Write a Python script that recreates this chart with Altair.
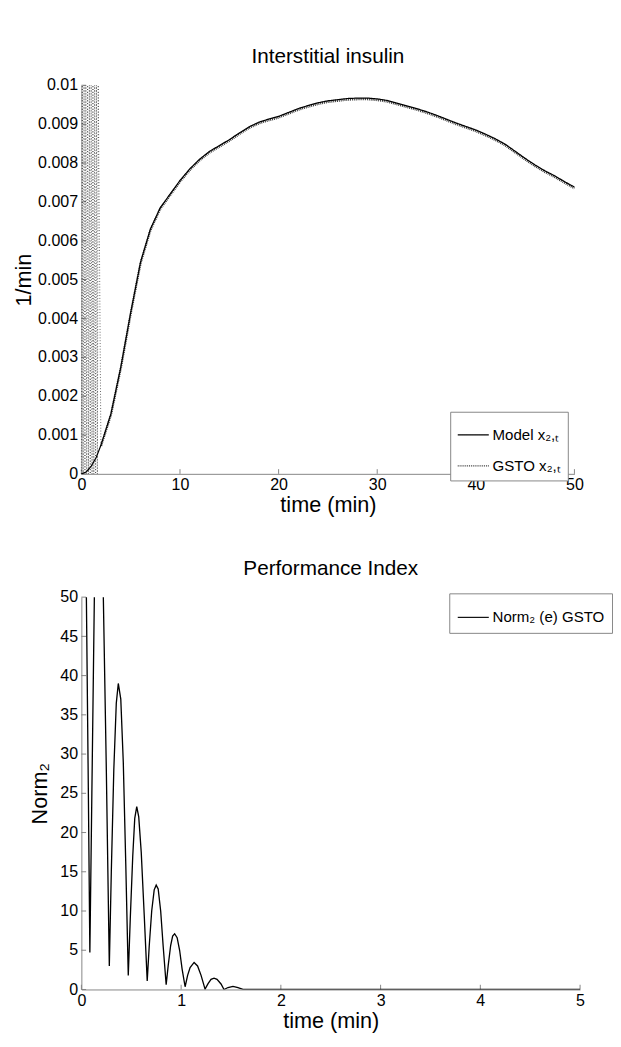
import altair as alt
import pandas as pd

FONT = "Liberation Sans"
AXIS_GRAY = "#808080"

# ---------- Top panel: Interstitial insulin ----------
model_t = [0, 0.5, 1, 1.5, 2, 3, 4, 5, 6, 7, 8, 9, 10, 11, 12, 13, 14, 15, 16, 17,
           18, 19, 20, 21, 22, 23, 24, 25, 26, 27, 28, 29, 30, 31, 32, 33, 34, 35,
           36, 37, 38, 39, 40, 41, 42, 43, 44, 45, 46, 47, 48, 49, 50]
model_v = [0.0, 0.00005, 0.0002, 0.00042, 0.00075, 0.00155, 0.00275, 0.00415, 0.00545,
           0.0063, 0.00685, 0.0072, 0.00755, 0.00785, 0.0081, 0.0083, 0.00845, 0.0086,
           0.00877, 0.00893, 0.00905, 0.00913, 0.0092, 0.0093, 0.0094, 0.00948, 0.00955,
           0.0096, 0.00963, 0.00966, 0.00967, 0.00967, 0.00965, 0.00961, 0.00954, 0.00947,
           0.0094, 0.00932, 0.00923, 0.00913, 0.00903, 0.00894, 0.00885, 0.00874, 0.00862,
           0.00848, 0.0083, 0.00812, 0.00795, 0.0078, 0.00767, 0.00752, 0.00738]

# GSTO: fast oscillation during the first ~2 min, then it follows the model curve
gsto_early_t = [0.0, 0.09, 0.18, 0.27, 0.36, 0.45, 0.54, 0.63, 0.72, 0.81, 0.90,
                0.99, 1.08, 1.17, 1.26, 1.35, 1.44, 1.53, 1.62, 1.71, 1.98]
gsto_early_v = [0.0, 0.01, 0.0, 0.01, 0.0, 0.01, 0.0, 0.01, 0.0, 0.01, 0.0,
                0.01, 0.0, 0.01, 0.0, 0.01, 0.0, 0.01, 0.0, 0.01, 0.0007]

top_xticks = [0, 10, 20, 30, 40, 50]
top_yticks = [0, 0.001, 0.002, 0.003, 0.004, 0.005, 0.006, 0.007, 0.008, 0.009, 0.01]

model_label = "Model x\u2082,\u209c"
gsto_label = "GSTO x\u2082,\u209c"

# ---------- Bottom panel: Performance Index ----------
norm_t = [0.0, 0.03, 0.05, 0.07, 0.085, 0.105, 0.13, 0.15, 0.175, 0.2, 0.22, 0.25, 0.28,
          0.30, 0.325, 0.35, 0.37, 0.395, 0.42, 0.445, 0.47,
          0.49, 0.515, 0.535, 0.555, 0.575, 0.60, 0.63, 0.66,
          0.68, 0.705, 0.73, 0.75, 0.77, 0.795, 0.82, 0.85,
          0.87, 0.895, 0.915, 0.935, 0.96, 0.985, 1.01, 1.04,
          1.065, 1.09, 1.13, 1.165, 1.2, 1.24,
          1.27, 1.3, 1.33, 1.36, 1.4, 1.43,
          1.47, 1.52, 1.57, 1.62, 2.0, 5.0]
norm_v = [110, 80, 50, 25, 4.7, 25, 50, 64, 70, 64, 50, 28, 3.0,
          15, 28, 36.5, 39, 37, 29, 16, 1.8,
          9, 17, 21.8, 23.3, 22, 17.5, 9.5, 1.1,
          5.5, 10, 12.7, 13.3, 12.8, 10, 5.5, 0.6,
          3.0, 5.6, 6.8, 7.1, 6.6, 5.0, 2.6, 0.35,
          1.8, 2.8, 3.45, 3.0, 1.8, 0.05,
          0.75, 1.3, 1.45, 1.3, 0.7, 0.0,
          0.25, 0.4, 0.25, 0.02, 0.0, 0.0]
bot_xticks = [0, 1, 2, 3, 4, 5]
bot_yticks = [0, 5, 10, 15, 20, 25, 30, 35, 40, 45, 50]
norm_label = "Norm\u2082 (e) GSTO"

# ---------- Data frames ----------
df_model = pd.DataFrame({"t": model_t, "v": model_v, "series": model_label})
late_t = [t for t in model_t if t >= 2]
late_v = [v for t, v in zip(model_t, model_v) if t >= 2]
df_gsto = pd.DataFrame({"t": late_t, "v": late_v, "series": gsto_label})
df_gsto_early = pd.DataFrame({"t": gsto_early_t, "v": gsto_early_v})
df_top_xt = pd.DataFrame({"t": top_xticks})
df_top_yt = pd.DataFrame({"v": top_yticks})

df_norm = pd.DataFrame({"t": norm_t, "v": norm_v, "metric": norm_label})
df_bot_xt = pd.DataFrame({"t": bot_xticks})
df_bot_yt = pd.DataFrame({"v": bot_yticks})

LABEL_SIZE = 17

# ---------- Top chart ----------
TW, TH = 524, 413
xs_top = alt.Scale(domain=[0, 50], nice=False, zero=False)
ys_top = alt.Scale(domain=[0, 0.01], nice=False)
xaxis_top = alt.Axis(title="time (min)", values=top_xticks, format="~r", labelFlush=False,
                     ticks=False, tickSize=0, grid=False, labelPadding=4, titlePadding=2)
yaxis_top = alt.Axis(title="1/min", values=top_yticks, format="~r", ticks=False, tickSize=0,
                     grid=False, labelPadding=4, titlePadding=3, labelOverlap=False)

top_legend = alt.Legend(title=None, orient="none", legendX=392, legendY=347,
                        symbolType="stroke", symbolSize=1089, symbolStrokeWidth=1.2,
                        labelFont=FONT, labelFontSize=16, labelColor="#000000",
                        strokeColor=AXIS_GRAY, fillColor="#ffffff", padding=7,
                        rowPadding=7, labelOffset=3)
color_top = alt.Color("series:N",
                      scale=alt.Scale(domain=[model_label, gsto_label], range=["#000000", "#333333"]),
                      legend=top_legend)
dash_top = alt.StrokeDash("series:N",
                          scale=alt.Scale(domain=[model_label, gsto_label], range=[[1, 0], [1, 1]]),
                          legend=top_legend)

gsto_early = alt.Chart(df_gsto_early).mark_line(strokeWidth=0.8, color="#333333",
                                                strokeDash=[1, 2]).encode(
    x=alt.X("t:Q", scale=xs_top, axis=xaxis_top),
    y=alt.Y("v:Q", scale=ys_top, axis=yaxis_top))
gsto_line = alt.Chart(df_gsto).mark_line(strokeWidth=2.4, yOffset=1.2).encode(
    x=alt.X("t:Q", scale=xs_top, axis=xaxis_top),
    y=alt.Y("v:Q", scale=ys_top, axis=yaxis_top),
    color=color_top, strokeDash=dash_top)
model_line = alt.Chart(df_model).mark_line(strokeWidth=1.3).encode(
    x=alt.X("t:Q", scale=xs_top, axis=xaxis_top),
    y=alt.Y("v:Q", scale=ys_top, axis=yaxis_top),
    color=color_top, strokeDash=dash_top)
top_xtick_rule = alt.Chart(df_top_xt).mark_rule(color=AXIS_GRAY, strokeWidth=1).encode(
    x=alt.X("t:Q", scale=xs_top, axis=xaxis_top),
    y=alt.value(TH), y2=alt.value(TH - 5))
top_ytick_rule = alt.Chart(df_top_yt).mark_rule(color=AXIS_GRAY, strokeWidth=1).encode(
    y=alt.Y("v:Q", scale=ys_top, axis=yaxis_top),
    x=alt.value(0), x2=alt.value(5))

top = alt.layer(top_xtick_rule, top_ytick_rule, gsto_early, gsto_line, model_line).properties(
    width=TW, height=TH,
    title=alt.TitleParams("Interstitial insulin", font=FONT, fontSize=22, fontWeight="normal",
                          color="#000000", offset=10, anchor="middle"))

# ---------- Bottom chart ----------
BW, BH = 530, 417
xs_bot = alt.Scale(domain=[0, 5], nice=False, zero=False)
ys_bot = alt.Scale(domain=[0, 50], nice=False)
xaxis_bot = alt.Axis(title="time (min)", values=bot_xticks, format="~r", labelFlush=False,
                     ticks=False, tickSize=0, grid=False, labelPadding=4, titlePadding=2)
yaxis_bot = alt.Axis(title="Norm\u2082", values=bot_yticks, format="~r", ticks=False, tickSize=0,
                     grid=False, labelPadding=4, titlePadding=9, labelOverlap=False)
color_bot = alt.Color("metric:N",
                      scale=alt.Scale(domain=[norm_label], range=["#000000"]),
                      legend=alt.Legend(title=None, orient="none", legendX=391, legendY=-4,
                                        symbolType="stroke", symbolSize=1089, symbolStrokeWidth=1.2,
                                        labelFont=FONT, labelFontSize=16, labelColor="#000000",
                                        strokeColor=AXIS_GRAY, fillColor="#ffffff", padding=8,
                                        labelOffset=3))

norm_line = alt.Chart(df_norm).mark_line(strokeWidth=1.4, clip=True).encode(
    x=alt.X("t:Q", scale=xs_bot, axis=xaxis_bot),
    y=alt.Y("v:Q", scale=ys_bot, axis=yaxis_bot),
    color=color_bot)
bot_xtick_rule = alt.Chart(df_bot_xt).mark_rule(color=AXIS_GRAY, strokeWidth=1).encode(
    x=alt.X("t:Q", scale=xs_bot, axis=xaxis_bot),
    y=alt.value(BH), y2=alt.value(BH - 5))
bot_ytick_rule = alt.Chart(df_bot_yt).mark_rule(color=AXIS_GRAY, strokeWidth=1).encode(
    y=alt.Y("v:Q", scale=ys_bot, axis=yaxis_bot),
    x=alt.value(0), x2=alt.value(5))

bottom = alt.layer(bot_xtick_rule, bot_ytick_rule, norm_line).properties(
    width=BW, height=BH,
    title=alt.TitleParams("Performance Index", font=FONT, fontSize=22, fontWeight="normal",
                          color="#000000", offset=10, anchor="middle"))

chart = alt.vconcat(top, bottom, spacing=44).resolve_scale(
    color="independent", strokeDash="independent"
).properties(
    padding={"left": 5, "top": 7, "right": 0, "bottom": 0}
).configure_view(stroke=None).configure_axis(
    domainColor=AXIS_GRAY, domainWidth=1,
    labelFont=FONT, labelFontSize=LABEL_SIZE, labelColor="#000000",
    titleFont=FONT, titleFontSize=23, titleFontWeight="normal", titleColor="#000000"
)

chart.save("out.html", embed_options={"renderer": "svg", "actions": False})
